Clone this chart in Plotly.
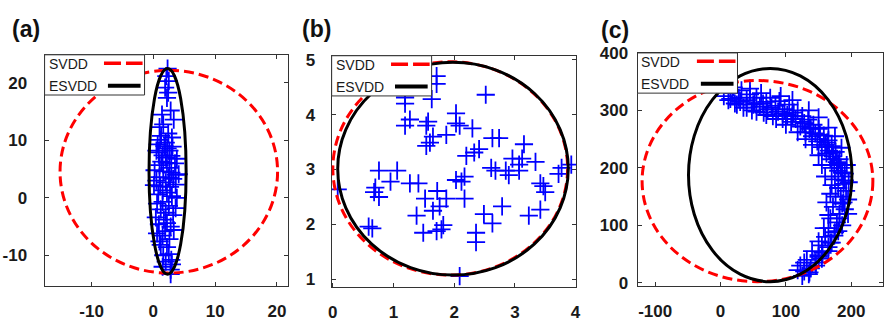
import plotly.graph_objects as go

# ---------------- data ----------------
panel_titles = ["(a)", "(b)", "(c)"]
legend_names = ["SVDD", "ESVDD"]

# tick values and labels
a_xticks, a_xtext = [-10, 0, 10, 20], ["-10", "0", "10", "20"]
a_yticks, a_ytext = [-10, 0, 10, 20], ["-10", "0", "10", "20"]
b_xticks, b_xtext = [0, 1, 2, 3, 4], ["0", "1", "2", "3", "4"]
b_yticks, b_ytext = [1, 2, 3, 4, 5], ["1", "2", "3", "4", "5"]
c_xticks, c_xtext = [-100, 0, 100, 200], ["-100", "0", "100", "200"]
c_yticks, c_ytext = [0, 100, 200, 300, 400], ["0", "100", "200", "300", "400"]

# panel (a) samples
a_x = [2.3, 2.1, 2.5, 1.9, 2.4, 2.2, 3.3, 1.0, 1.6, 1.25, 2.4, 2.0, 0.5, 2.6, 1.5, 3.8, 1.0, 2.6,
       4.1, 0.5, 2.0, 1.5, 3.0, 1.5, 3.6, 2.0, 0.4, 2.8, 1.5, 1.2, 2.5, 2.0, 2.8, 2.8,
       1.8, 2.3, 3.1, 0.9, 2.0, 2.9, 3.5, 1.3, 2.2, 0.2, 1.6, 2.9, 3.6, 3.2, 1.0, 2.5,
       0.1, 1.1, 2.7, 3.6, 0.8, 2.2, 3.8, 0.6, 2.5, 1.2, 3.2, 1.7, 0.9, 2.2, 3.3, 1.9,
       0.6, 2.6, 1.0, 2.2, 1.6, 2.9, 1.5, 3.0, 1.4, 2.8, 1.1, 3.0, 0.7]
a_y = [22.5, 21.2, 20.3, 19.2, 18.3, 17.4, 13.6, 12.3, 12.8, 10.8, 11.2, 9.6, 8.2, 8.2, 7.4, 6.8, 5.7, 5.2,
       4.1, 3.0, 2.7, 1.3, 0.3, -0.7, -1.8, -2.6, -3.4, -5.0, -6.6, -8.2, -9.8, -11.1, -12.5, -13.3,
       9.0, 8.6, 8.9, 7.9, 7.0, 7.3, 6.0, 6.3, 6.1, 4.8, 4.6, 4.4, 4.0, 3.3, 3.6, 3.5,
       2.2, 2.0, 1.9, 2.3, 0.6, 0.9, 0.0, -1.0, -1.4, -2.0, -3.0, -3.8, -4.6, -4.4, -5.6, -5.8,
       -6.2, -7.2, -7.6, -8.6, -10.0, -10.8, -12.0, -11.6, 14.5, 15.2, 10.1, 10.5, 9.3]

# panel (b) samples
b_x = [1.71, 1.71, 2.52, 1.19, 1.63, 1.19, 2.03, 1.27, 1.19, 1.57, 1.54, 2.03, 2.09, 2.30, 1.87, 1.65,
       1.60, 1.54, 2.63, 2.74, 3.15, 2.41, 2.33, 2.20, 2.96, 3.12, 3.34, 3.07, 0.76, 1.06, 2.61, 2.68,
       2.85, 3.07, 3.77, 3.93, 3.72, 2.90, 2.17, 2.12, 2.03, 0.95, 1.27, 1.41, 0.70, 0.76, 0.68, 0.08,
       1.72, 3.42, 3.47, 3.50, 1.52, 1.87, 2.17, 1.76, 1.65, 2.79, 3.42, 3.23, 1.38, 2.49, 2.63, 0.59,
       0.65, 1.82, 1.79, 1.71, 1.49, 2.36, 2.36, 2.09]
b_y = [4.70, 4.56, 4.36, 4.31, 4.28, 4.20, 4.02, 3.91, 3.80, 3.87, 3.80, 3.84, 3.80, 3.75, 3.63, 3.60,
       3.49, 3.43, 3.57, 3.57, 3.46, 3.37, 3.31, 3.25, 3.20, 3.20, 3.14, 3.09, 2.98, 2.98, 3.03, 2.98,
       2.98, 2.98, 3.03, 3.09, 2.92, 2.90, 2.87, 2.78, 2.81, 2.78, 2.75, 2.75, 2.67, 2.50, 2.59, 2.64,
       2.61, 2.75, 2.70, 2.59, 2.47, 2.47, 2.47, 2.33, 2.25, 2.33, 2.27, 2.16, 2.16, 2.19, 2.02, 1.96,
       1.93, 1.99, 1.91, 1.88, 1.85, 1.85, 1.68, 1.06]

# panel (c) samples
c_x = [5, 12, 18, 22, 28, 32, 35, 40, 45, 48, 52, 55, 60, 62, 66, 70, 72, 76, 80, 84, 88, 90, 95, 98,
       102, 105, 108, 112, 115, 118, 122, 125, 128, 130, 134, 136, 140, 142, 145, 148, 150, 152, 155,
       158, 160, 162, 165, 166, 168, 170, 172, 174, 176, 178, 180, 182, 184, 186, 170, 175, 188, 190,
       180, 184, 192, 186, 176, 170, 190, 182, 172, 178, 168, 186, 165, 175, 160, 170, 155, 165, 150,
       155, 145, 140, 132, 138, 128, 122, 125, 118, 135, 150, 158, 165, 162, 168, 160, 155, 150, 140,
       130, 118, 100, 85, 70, 55, 40, 25, 195, 196, 193, 185, 175, 165, 150, 135, 110, 92, 20, 45,
       195, 180, 168, 150,
       15, 30, 50, 65, 78, 95, 110, 125, 138, 152, 163, 172, 180, 186, 190, 188, 182, 174, 165, 156,
       146, 136, 128]
c_y = [325, 318, 330, 312, 322, 335, 305, 318, 328, 300, 312, 322, 306, 330, 296, 315, 302, 322, 290,
       308, 298, 316, 285, 302, 292, 310, 280, 296, 285, 300, 272, 290, 278, 262, 284, 268, 255, 275,
       260, 246, 268, 250, 236, 256, 240, 225, 248, 230, 215, 238, 220, 205, 228, 210, 195, 215, 200,
       185, 200, 180, 172, 190, 165, 150, 160, 138, 150, 170, 128, 120, 132, 105, 112, 100, 95, 88,
       80, 70, 65, 55, 48, 42, 35, 55, 40, 25, 20, 30, 12, 22, 15, 72, 95, 118, 140, 155, 185, 205,
       222, 240, 250, 262, 275, 285, 292, 298, 305, 310, 145, 175, 205, 235, 255, 270, 288, 300, 318,
       325, 340, 338, 120, 90, 70, 45,
       320, 315, 310, 312, 305, 295, 290, 280, 270, 258, 244, 226, 208, 192, 178, 140, 112, 82, 62,
       52, 30, 18, 35]

# decision boundaries (bounding boxes: x0, x1, y0, y1)
a_svdd = [-15.1, 20.1, -13.1, 22.2]
a_esvdd = [-0.7, 5.3, -13.3, 22.5]
b_svdd = [0.0, 3.87, 1.08, 4.96]
b_esvdd = [0.08, 3.88, 1.08, 4.95]
c_svdd = [-120, 233, 2, 352]
c_esvdd = [-49, 201, 2, 373]

# axis ranges
a_xrange, a_yrange = [-17.6, 21.8], [-15.3, 24.9]
b_xrange, b_yrange = [-0.02, 4.01], [0.87, 5.07]
c_xrange, c_yrange = [-127, 248.5], [-5, 400]

# ---------------- layout ----------------
W, H = 888, 322


def px(v):
    return v / W


def py(v):
    return 1 - v / H


# plot boxes in pixels: left, right, top, bottom
boxes = [(41, 287, 49, 296), (331, 578, 50, 297), (640, 888, 47, 296)]
title_pos = [(6, 21), (299, 21), (601, 23)]
ylab_standoff = [13, 12, 5]

data_sets = [(a_x, a_y), (b_x, b_y), (c_x, c_y)]
bounds = [(a_svdd, a_esvdd), (b_svdd, b_esvdd), (c_svdd, c_esvdd)]
ranges = [(a_xrange, a_yrange), (b_xrange, b_yrange), (c_xrange, c_yrange)]
ticks = [(a_xticks, a_xtext, a_yticks, a_ytext), (b_xticks, b_xtext, b_yticks, b_ytext),
         (c_xticks, c_xtext, c_yticks, c_ytext)]

fig = go.Figure()
shapes = []
annotations = []
layout = {}
axis_line = '#333333'
font_family = 'Liberation Sans, Arial, sans-serif'

for i in range(3):
    sfx = '' if i == 0 else str(i + 1)
    l, r, t, b = boxes[i]
    xr, yr = ranges[i]
    xtv, xtt, ytv, ytt = ticks[i]
    common = dict(showline=True, linecolor=axis_line, linewidth=1, mirror='ticks',
                  ticks='inside', ticklen=4, tickcolor=axis_line, showgrid=False,
                  zeroline=False, fixedrange=True, tickmode='array',
                  tickfont=dict(family=font_family, size=17, color='#1a1a1a', weight='bold'))
    layout['xaxis' + sfx] = dict(domain=[px(l), px(r)], range=xr, tickvals=xtv, ticktext=xtt,
                                  anchor='y' + sfx, ticklabelstandoff=10, **common)
    layout['yaxis' + sfx] = dict(domain=[py(b), py(t)], range=yr, tickvals=ytv, ticktext=ytt,
                                  anchor='x' + sfx, ticklabelstandoff=ylab_standoff[i], **common)

    xs, ys = data_sets[i]
    fig.add_trace(go.Scatter(x=xs, y=ys, mode='markers', xaxis='x' + sfx, yaxis='y' + sfx,
                             marker=dict(symbol='cross-thin', size=13,
                                         line=dict(color='#0000ff', width=1.8)),
                             hoverinfo='skip', showlegend=False))

    sv, es = bounds[i]
    shapes.append(dict(type='circle', xref='x' + sfx, yref='y' + sfx,
                       x0=sv[0], x1=sv[1], y0=sv[2], y1=sv[3],
                       line=dict(color='#ff0000', width=3, dash='10px,5px')))
    shapes.append(dict(type='circle', xref='x' + sfx, yref='y' + sfx,
                       x0=es[0], x1=es[1], y0=es[2], y1=es[3],
                       line=dict(color='#000000', width=3)))

    # legend box (text on the left, line sample on the right)
    shapes.append(dict(type='rect', xref='paper', yref='paper',
                       x0=px(l), x1=px(l + 101), y0=py(t + 43), y1=py(t),
                       fillcolor='white', line=dict(color=axis_line, width=1)))
    shapes.append(dict(type='line', xref='paper', yref='paper',
                       x0=px(l + 60), x1=px(l + 99), y0=py(t + 9), y1=py(t + 9),
                       line=dict(color='#ff0000', width=3.5, dash='17px,5px')))
    shapes.append(dict(type='line', xref='paper', yref='paper',
                       x0=px(l + 64), x1=px(l + 97), y0=py(t + 33), y1=py(t + 33),
                       line=dict(color='#000000', width=4)))
    for k, name in enumerate(legend_names):
        annotations.append(dict(text=name, xref='paper', yref='paper',
                                x=px(l + 2), y=py(t + 10 + 23 * k), xanchor='left',
                                yanchor='middle', showarrow=False,
                                font=dict(family=font_family, size=14, color='#1a1a1a')))

    tx, ty = title_pos[i]
    annotations.append(dict(text='<b>' + panel_titles[i] + '</b>', xref='paper', yref='paper',
                            x=px(tx), y=py(ty), xanchor='left', yanchor='middle',
                            showarrow=False,
                            font=dict(family=font_family, size=23, color='#111111')))

fig.update_layout(width=W, height=H, autosize=False, margin=dict(l=0, r=0, t=0, b=0),
                  plot_bgcolor='white', paper_bgcolor='white', showlegend=False,
                  shapes=shapes, annotations=annotations, **layout)

post = """
document.documentElement.style.margin='0px';
document.documentElement.style.overflow='hidden';
document.body.style.margin='0px';
document.body.style.padding='0px';
document.body.style.overflow='hidden';
"""

fig.write_html('out.html', config={'displayModeBar': False, 'responsive': False}, post_script=post)
